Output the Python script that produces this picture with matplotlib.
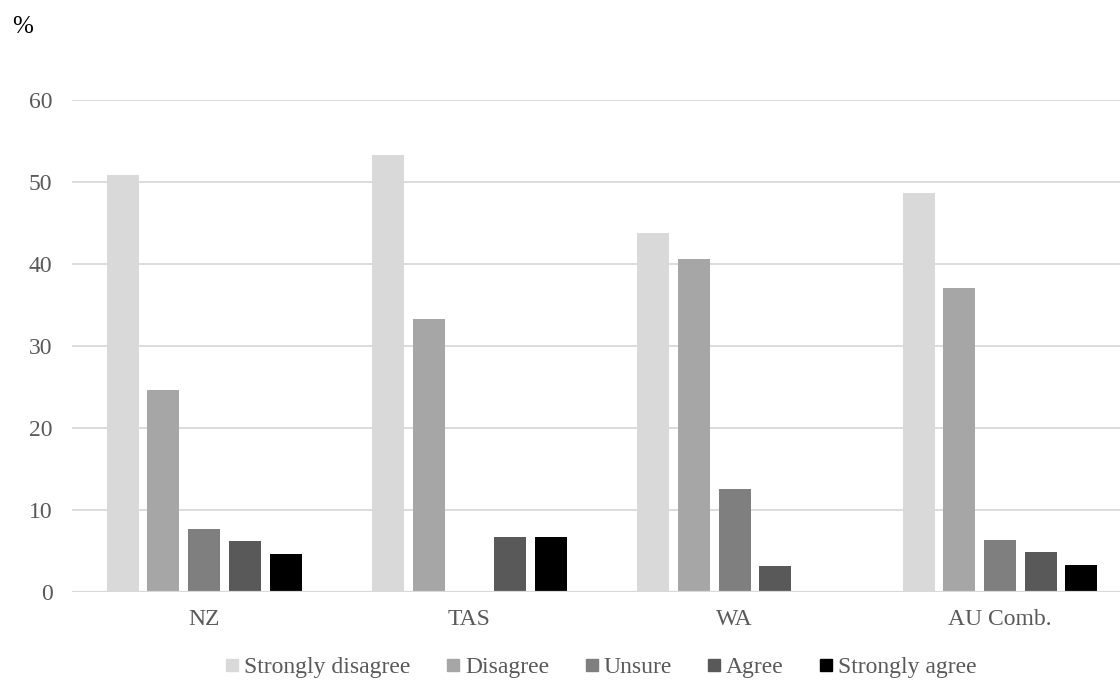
import numpy as np
import matplotlib
matplotlib.use("Agg")
import matplotlib.pyplot as plt
from matplotlib.lines import Line2D

# Survey responses by region (%)
regions = ["NZ", "TAS", "WA", "AU Comb."]
responses = ["Strongly disagree", "Disagree", "Unsure", "Agree", "Strongly agree"]
strongly_disagree = [50.8, 53.3, 43.8, 48.6]
disagree = [24.6, 33.3, 40.6, 37.0]
unsure = [7.7, 0.0, 12.5, 6.3]
agree = [6.2, 6.7, 3.1, 4.9]
strongly_agree = [4.6, 6.7, 0.0, 3.3]
yticks = [0, 10, 20, 30, 40, 50, 60]

series = [strongly_disagree, disagree, unsure, agree, strongly_agree]
colors = ["#D9D9D9", "#A6A6A6", "#7F7F7F", "#595959", "#000000"]

plt.rcParams["font.family"] = ["Liberation Serif", "DejaVu Serif"]

W, H = 1120, 682
fig = plt.figure(figsize=(W / 100, H / 100), dpi=100)
# plot area: left edge of first category to right edge of last one
cat_px = 265.3
ax = fig.add_axes([71.5 / W, (H - 591.7) / H, 4 * cat_px / W, 492.0 / H])

x = np.arange(len(regions))
pitch = 40.7 / cat_px
width = 32.0 / cat_px
for i, (vals, col) in enumerate(zip(series, colors)):
    ax.bar(x + (i - 2) * pitch, vals, width=width, color=col, zorder=3,
           label=responses[i])

ax.set_xlim(-0.5, len(regions) - 0.5)
ax.set_ylim(0, 60)
ax.set_yticks(yticks)
ax.set_xticks(x)
ax.set_xticklabels(regions)
ax.grid(axis="y", color="#D9D9D9", linewidth=1.3, zorder=0)
ax.axhline(0, color="#D9D9D9", linewidth=1.6, zorder=4)
for s in ax.spines.values():
    s.set_visible(False)
ax.tick_params(axis="both", length=0, labelsize=17, labelcolor="#595959")
ax.tick_params(axis="y", pad=13.7)
ax.tick_params(axis="x", pad=12.5)

fig.text(12 / W, 1 - 27 / H, "%", fontsize=18, color="#000000", va="center", ha="left")

handles = [Line2D([], [], marker="s", linestyle="none", markersize=9,
                  markerfacecolor=c, markeredgecolor=c) for c in colors]
fig.legend(handles, responses, loc="center", bbox_to_anchor=(601 / W, (H - 667) / H),
           ncol=5, frameon=False, fontsize=17, labelcolor="#595959",
           handlelength=0.6, handletextpad=0.2, columnspacing=1.5)

fig.savefig("out.png", dpi=100)
